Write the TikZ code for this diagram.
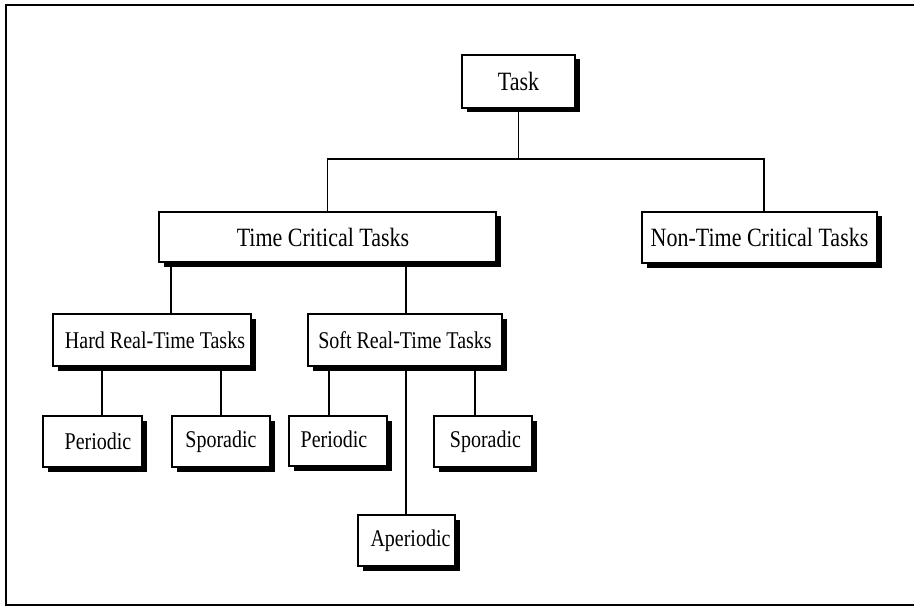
\documentclass[tikz,border=0pt]{standalone}
\usepackage{fontspec}
\usepackage{graphicx}
\setmainfont{Liberation Serif}
\usetikzlibrary{shadows}
\newcommand{\tallt}[1]{\scalebox{1}[1.2]{#1}}
\tikzset{
  box/.style={draw=black, line width=1.4pt, fill=white, inner sep=0pt,
    general shadow={fill=black, shadow xshift=4.5pt, shadow yshift=-4.5pt}},
  big/.style={font=\fontsize{22}{26}\selectfont},
  small/.style={font=\fontsize{20}{24}\selectfont},
  conn/.style={draw=black, line width=1.3pt},
  frame/.style={draw=black, line width=2pt}
}
\begin{document}
\begin{tikzpicture}[x=1pt,y=-1pt]
\useasboundingbox (0,0) rectangle (914,607);
\draw[frame] (914,5) -- (6,5) -- (6,605) -- (914,605);

\node[box,big,minimum width=113pt,minimum height=53pt] (Task) at (518.5,81.5) {\tallt{Task}};
\node[box,big,minimum width=337pt,minimum height=50pt] (TC) at (327.5,237) {\hspace*{-9pt}\tallt{Time Critical Tasks}};
\node[box,big,minimum width=235pt,minimum height=51pt] (NTC) at (759.5,237.5) {\tallt{Non-Time Critical Tasks}};
\node[box,small,minimum width=198pt,minimum height=52pt] (Hard) at (152,340) {\hspace*{6pt}\tallt{Hard Real-Time Tasks}};
\node[box,small,minimum width=194pt,minimum height=52pt] (Soft) at (405,340) {\tallt{Soft Real-Time Tasks}};
\node[box,small,minimum width=99pt,minimum height=51pt] (HP) at (92.5,441.5) {\hspace*{11pt}\tallt{Periodic}};
\node[box,small,minimum width=98pt,minimum height=51pt] (HS) at (221,441.5) {\tallt{Sporadic}};
\node[box,small,minimum width=98pt,minimum height=50pt] (SP) at (338,441) {\raisebox{4pt}{\tallt{Periodic}}\hspace*{8pt}};
\node[box,small,minimum width=98pt,minimum height=51pt] (SS) at (483,441.5) {\hspace*{5pt}\tallt{Sporadic}};
\node[box,small,minimum width=97pt,minimum height=51pt] (AP) at (406.5,540.5) {\hspace*{8pt}\tallt{Aperiodic}};

\coordinate (bar) at (0,159);
\draw[conn] (Task.south) -- (Task.south |- bar);
\draw[conn] (TC.north) -- (TC.north |- bar) -- (764,0 |- bar) -- (764,0 |- NTC.north);

\draw[conn] (171,0 |- TC.south) -- (171,0 |- Hard.north);
\draw[conn] (406,0 |- TC.south) -- (406,0 |- Soft.north);

\draw[conn] (102,0 |- Hard.south) -- (102,0 |- HP.north);
\draw[conn] (221,0 |- Hard.south) -- (221,0 |- HS.north);

\draw[conn] (329,0 |- Soft.south) -- (329,0 |- SP.north);
\draw[conn] (475,0 |- Soft.south) -- (475,0 |- SS.north);
\draw[conn] (406,0 |- Soft.south) -- (406,0 |- AP.north);
\end{tikzpicture}
\end{document}
